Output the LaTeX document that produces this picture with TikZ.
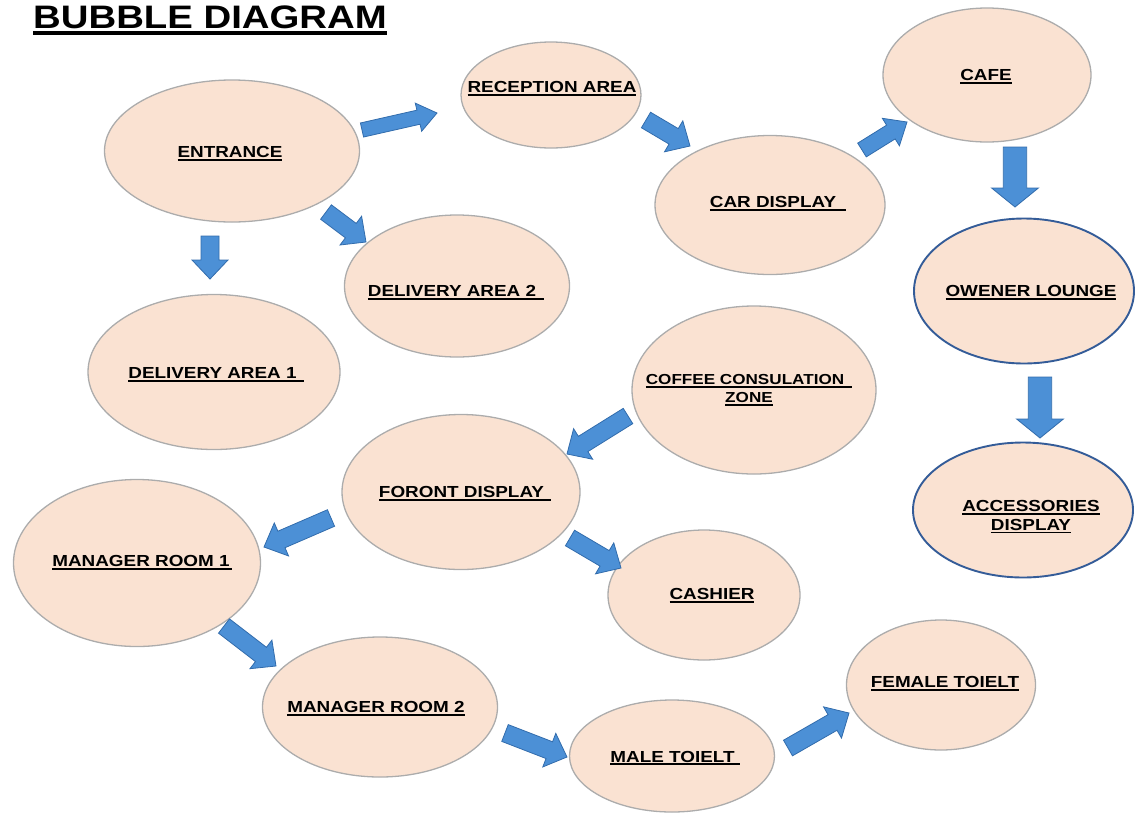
\documentclass[tikz,border=0pt]{standalone}
\usepackage{fontspec}
\newfontfamily\tagfont{Liberation Sans}[FakeStretch=1.18]
\usetikzlibrary{shapes.geometric,calc}
\definecolor{bubblefill}{RGB}{250,226,210}
\definecolor{bubbleline}{RGB}{172,172,172}
\definecolor{ringline}{RGB}{52,92,152}
\definecolor{flowfill}{RGB}{76,144,214}
\definecolor{flowline}{RGB}{50,108,172}
% underlined label, optional trailing extension of the rule
\newcommand\ul[2][0pt]{\leavevmode\setbox0\hbox{#2\hspace{#1}}\rlap{\rule[-0.2em]{\wd0}{0.12em}}\box0}
% block arrow: [width factor]{name}{tail}{tip}
\newcommand\flow[4][1]{%
  \coordinate (#2-tail) at (#3);
  \coordinate (#2-tip) at (#4);
  \coordinate (#2-base) at ($(#2-tip)!19pt!(#2-tail)$);
  \filldraw[flow] ($(#2-tail)!{9pt*#1}!90:(#2-tip)$) -- ($(#2-base)!{9pt*#1}!-90:(#2-tail)$)
    -- ($(#2-base)!{18pt*#1}!-90:(#2-tail)$) -- (#2-tip) -- ($(#2-base)!{18pt*#1}!90:(#2-tail)$)
    -- ($(#2-base)!{9pt*#1}!90:(#2-tail)$) -- ($(#2-tail)!{9pt*#1}!-90:(#2-tip)$) -- cycle;
}
\tikzset{
  bubble/.style={ellipse, draw=bubbleline, line width=1.3pt, fill=bubblefill, inner sep=0pt},
  ring/.style={bubble, draw=ringline, line width=1.9pt},
  span/.style 2 args={minimum width=#1pt, minimum height=#2pt},
  tag/.style={font=\tagfont\bfseries\fontsize{16}{18.5}\selectfont, align=center, inner sep=0pt},
  flow/.style={fill=flowfill, draw=flowline, line width=0.8pt, line join=miter}
}
\begin{document}
\begin{tikzpicture}[x=1pt,y=-1pt]
  \useasboundingbox (0,0) rectangle (1135,815);
  \node[tag, font=\tagfont\bfseries\fontsize{32.5}{38}\selectfont, anchor=base west] (title) at (33,28) {\ul{BUBBLE DIAGRAM}};

  % bubbles
  \node[bubble, span={255}{142}] (entrance) at (232,151) {};
  \node[bubble, span={180}{106}] (reception) at (551,95) {};
  \node[bubble, span={208}{134}] (cafe) at (987,75) {};
  \node[bubble, span={230}{139}] (car) at (770,205) {};
  \node[ring, span={220}{145}] (lounge) at (1024,291) {};
  \node[ring, span={220}{135}] (accessories) at (1023,510) {};
  \node[bubble, span={225}{142}] (delivery2) at (457,286) {};
  \node[bubble, span={252}{155}] (delivery1) at (214,372) {};
  \node[bubble, span={244}{168}] (coffee) at (754,390) {};
  \node[bubble, span={238}{155}] (front) at (461,492) {};
  \node[bubble, span={247}{167}] (manager1) at (137,563) {};
  \node[bubble, span={192}{130}] (cashier) at (704,595) {};
  \node[bubble, span={235}{140}] (manager2) at (380,707) {};
  \node[bubble, span={205}{112}] (male) at (672,756) {};
  \node[bubble, span={189}{130}] (female) at (941,685) {};

  % labels
  \node[tag] (entrance-tag) at (230,154) {\ul{ENTRANCE}};
  \node[tag] (reception-tag) at (552,89) {\ul{RECEPTION AREA}};
  \node[tag] (cafe-tag) at (986,77) {\ul{CAFE}};
  \node[tag] (car-tag) at (778,204) {\ul[10pt]{CAR DISPLAY}};
  \node[tag] (lounge-tag) at (1031,293) {\ul{OWENER LOUNGE}};
  \node[tag] (accessories-tag) at (1031,517) {\ul{ACCESSORIES}\\\ul{DISPLAY}};
  \node[tag] (delivery2-tag) at (456,293) {\ul[8pt]{DELIVERY AREA 2}};
  \node[tag] (delivery1-tag) at (216,375) {\ul[7pt]{DELIVERY AREA 1}};
  \node[tag, font=\tagfont\bfseries\fontsize{14.5}{18}\selectfont] (coffee-tag) at (749,390) {\ul[8pt]{COFFEE CONSULATION}\\\ul{ZONE}};
  \node[tag] (front-tag) at (465,494) {\ul[7pt]{FORONT DISPLAY}};
  \node[tag] (manager1-tag) at (142,563) {\ul[2pt]{MANAGER ROOM 1}};
  \node[tag] (cashier-tag) at (712,596) {\ul{CASHIER}};
  \node[tag] (manager2-tag) at (376,709) {\ul{MANAGER ROOM 2}};
  \node[tag] (male-tag) at (675,758) {\ul[5pt]{MALE TOIELT}};
  \node[tag] (female-tag) at (945,684) {\ul{FEMALE TOIELT}};

  % flows
  \flow[0.8]{ent-rec}{362,130}{437,113}
  \flow{ent-del2}{326,212}{366,242}
  \flow{ent-del1}{210,236}{210,279}
  \flow{rec-car}{646,120}{690,146}
  \flow[0.9]{car-cafe}{862,150}{907,122}
  \flow[1.3]{cafe-lounge}{1015,147}{1015,207}
  \flow[1.3]{lounge-acc}{1040,377}{1040,438}
  \flow{coffee-front}{628,416}{567,454}
  \flow{front-man1}{331,518}{264,547}
  \flow{front-cash}{570,538}{621,568}
  \flow{man1-man2}{224,626}{276,666}
  \flow{man2-male}{505,733}{567,757}
  \flow{male-female}{788,748}{849,713}
\end{tikzpicture}
\end{document}
